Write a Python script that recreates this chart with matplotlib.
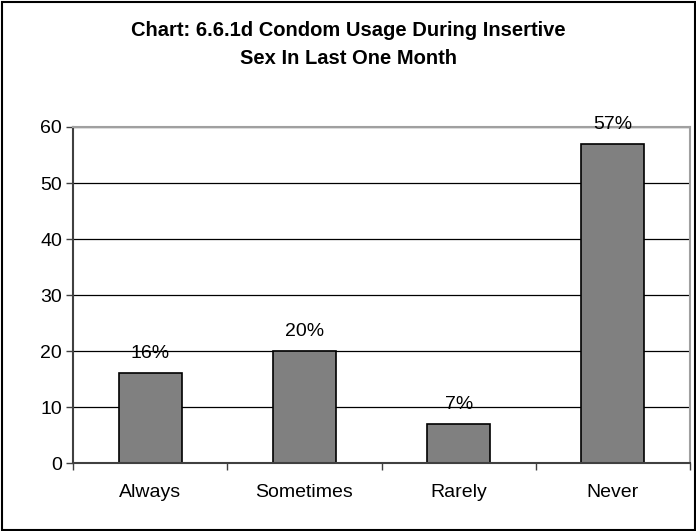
import matplotlib.pyplot as plt
from matplotlib.patches import Rectangle

plt.rcParams['font.family'] = ['Liberation Sans', 'DejaVu Sans']

categories = ['Always', 'Sometimes', 'Rarely', 'Never']
values = [16, 20, 7, 57]
labels = ['16%', '20%', '7%', '57%']
yticks = [0, 10, 20, 30, 40, 50, 60]

W, H = 696, 531
fig = plt.figure(figsize=(W / 100, H / 100), dpi=100)

# plot area in pixels: left 73, right 690, top 127, bottom 463
ax = fig.add_axes([73 / W, 1 - 463 / H, (690 - 73) / W, (463 - 127) / H])

x = range(len(categories))
ax.bar(x, values, width=0.41, color='#808080', edgecolor='black', linewidth=1.2, zorder=3)
for xi, v, lab in zip(x, values, labels):
    ax.annotate(lab, (xi, v), xytext=(0, 11), textcoords='offset points',
                ha='center', va='baseline', fontsize=14, zorder=4, annotation_clip=False)

ax.set_xlim(-0.5, len(categories) - 0.5)
ax.set_ylim(0, 60)
ax.set_yticks(yticks)
ax.set_yticklabels([str(t) for t in yticks], fontsize=14)
ax.yaxis.grid(True, color='black', linewidth=0.9, zorder=1)
ax.set_axisbelow(True)

# category labels centred, tick marks on the category boundaries
ax.set_xticks(list(x))
ax.set_xticklabels(categories, fontsize=14)
ax.tick_params(axis='x', length=0, pad=15)
ax.set_xticks([i - 0.5 for i in range(len(categories) + 1)], minor=True)
ax.tick_params(axis='x', which='minor', length=5, color='#404040', width=1, direction='out')
ax.tick_params(axis='y', length=5, color='#404040', width=1, direction='out', pad=3)

ax.spines['left'].set_color('#404040')
ax.spines['left'].set_linewidth(1.5)
ax.spines['bottom'].set_color('#404040')
ax.spines['bottom'].set_linewidth(1.5)
ax.spines['top'].set_color('#a0a0a0')
ax.spines['top'].set_linewidth(1.5)
ax.spines['right'].set_color('#a0a0a0')
ax.spines['right'].set_linewidth(1.5)
ax.spines['bottom'].set_zorder(5)

fig.text(0.5, 1 - 31 / H, 'Chart: 6.6.1d Condom Usage During Insertive', ha='center', va='center',
         fontsize=14.5, fontweight='bold')
fig.text(0.5, 1 - 58 / H, 'Sex In Last One Month', ha='center', va='center',
         fontsize=14.5, fontweight='bold')

# outer chart frame
fig.patches.append(Rectangle((1.5 / W, 1.5 / H), (W - 3) / W, (H - 3) / H, transform=fig.transFigure,
                             fill=False, edgecolor='black', linewidth=1.5))

fig.savefig('out.png', dpi=100)
